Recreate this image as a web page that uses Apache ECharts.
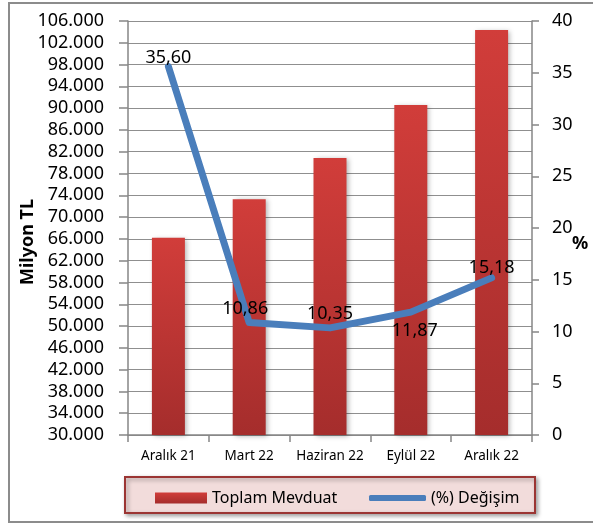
<!DOCTYPE html>
<html>
<head>
<meta charset="utf-8">
<script src="https://cdn.jsdelivr.net/npm/echarts@6/dist/echarts.min.js"></script>
<style>
  html, body { margin: 0; padding: 0; background: #ffffff; }
  #chartEl { width: 593px; height: 525px; }
</style>
</head>
<body>
<div id="chartEl"></div>
<script>
// 数据
const categories = ["Aralık 21", "Mart 22", "Haziran 22", "Eylül 22", "Aralık 22"]
const depositValues = [66200, 73300, 80850, 90600, 104350]
const changeValues = [35.6, 10.86, 10.35, 11.87, 15.18]
const barName = "Toplam Mevduat"
const lineName = "(%) Değişim"

const fontName = "Noto Sans"

// 标签位置
const labelPlaces = [
  { show: true, position: "top", distance: 0 },
  { show: true, position: "top", distance: 5, offset: [-4, 0] },
  { show: true, position: "top", distance: 5 },
  { show: true, position: "bottom", distance: 10, offset: [4, 0] },
  { show: true, position: "top", distance: 1 }
]

const fmtThousands = (v) => {
  return String(v).replace(/\B(?=(\d{3})+(?!\d))/g, ".")
}

const chartInit = () => {
  let chartEle = document.getElementById("chartEl")
  let chart = echarts.init(chartEle, null, { renderer: "canvas" })

  let lineData = changeValues.map((v, i) => {
    return {
      value: v,
      label: labelPlaces[i]
    }
  })

  let option = {
    backgroundColor: "#ffffff",
    animation: false,
    grid: {
      left: 128,
      right: 61,
      top: 21,
      bottom: 90
    },
    graphic: [
      {
        type: "rect",
        shape: { x: 9, y: 3, width: 620, height: 519 },
        style: { fill: "none", stroke: "#8c8c8c", lineWidth: 2 },
        z: -10
      },
      {
        type: "rect",
        shape: { x: 125, y: 477, width: 410, height: 36 },
        style: {
          fill: "#f2dcdb",
          stroke: "#9b3533",
          lineWidth: 2,
          shadowColor: "rgba(0,0,0,0.35)",
          shadowBlur: 4,
          shadowOffsetX: 2,
          shadowOffsetY: 2
        },
        z: -5
      },
      {
        type: "text",
        rotation: Math.PI / 2,
        style: {
          text: "Milyon TL",
          font: "bold 18px '" + fontName + "'",
          fill: "#000000",
          textAlign: "center",
          textVerticalAlign: "middle"
        },
        x: 28,
        y: 242
      },
      {
        type: "text",
        style: {
          text: "%",
          x: 580,
          y: 244,
          font: "bold 18px '" + fontName + "'",
          fill: "#000000",
          textAlign: "center",
          textVerticalAlign: "middle"
        }
      }
    ],
    legend: [
      {
        data: [barName],
        left: 150,
        top: 485,
        itemWidth: 52,
        itemHeight: 11,
        itemGap: 6,
        icon: "rect",
        textStyle: { fontSize: 16, color: "#000000", fontFamily: fontName }
      },
      {
        data: [lineName],
        left: 364,
        top: 485,
        itemWidth: 57,
        itemHeight: 6,
        icon: "roundRect",
        textStyle: { fontSize: 16, color: "#000000", fontFamily: fontName }
      }
    ],
    xAxis: {
      type: "category",
      data: categories,
      axisLine: { show: true, lineStyle: { color: "#868686", width: 1.5 } },
      axisTick: { show: true, length: 7, lineStyle: { color: "#868686", width: 1.5 } },
      axisLabel: { fontSize: 13.5, color: "#000000", margin: 14, interval: 0, fontFamily: fontName }
    },
    yAxis: [
      {
        type: "value",
        min: 30000,
        max: 106000,
        interval: 4000,
        axisLine: { show: true, lineStyle: { color: "#868686", width: 1.5 } },
        axisTick: { show: true, length: 9, lineStyle: { color: "#868686", width: 1.5 } },
        splitLine: { show: true, lineStyle: { color: "#8f8f8f", width: 1.2 } },
        axisLabel: {
          fontSize: 18,
          color: "#000000",
          margin: 24,
          fontFamily: fontName,
          formatter: (v) => fmtThousands(v)
        }
      },
      {
        type: "value",
        min: 0,
        max: 40,
        interval: 5,
        position: "right",
        axisLine: { show: true, lineStyle: { color: "#868686", width: 1.5 } },
        axisTick: { show: true, length: 7, lineStyle: { color: "#868686", width: 1.5 } },
        splitLine: { show: false },
        axisLabel: { fontSize: 18, color: "#000000", margin: 20, fontFamily: fontName }
      }
    ],
    series: [
      {
        name: barName,
        type: "bar",
        yAxisIndex: 0,
        data: depositValues,
        barWidth: 33,
        itemStyle: {
          color: {
            type: "linear",
            x: 0,
            y: 0,
            x2: 0,
            y2: 1,
            colorStops: [
              { offset: 0, color: "#d13d3a" },
              { offset: 1, color: "#a52d2c" }
            ]
          },
          shadowColor: "rgba(0,0,0,0.3)",
          shadowBlur: 5,
          shadowOffsetX: 2,
          shadowOffsetY: 1
        }
      },
      {
        name: lineName,
        type: "line",
        yAxisIndex: 1,
        data: lineData,
        symbol: "circle",
        symbolSize: 0.1,
        showSymbol: true,
        smooth: false,
        z: 5,
        itemStyle: { color: "#4a7ebb" },
        lineStyle: { color: "#4a7ebb", width: 7, cap: "round", join: "round" },
        label: {
          show: true,
          fontSize: 18,
          color: "#000000",
          fontFamily: fontName,
          formatter: (p) => p.value.toFixed(2).replace(".", ",")
        }
      }
    ]
  }

  chart.setOption(option)
}

chartInit()
</script>
</body>
</html>
